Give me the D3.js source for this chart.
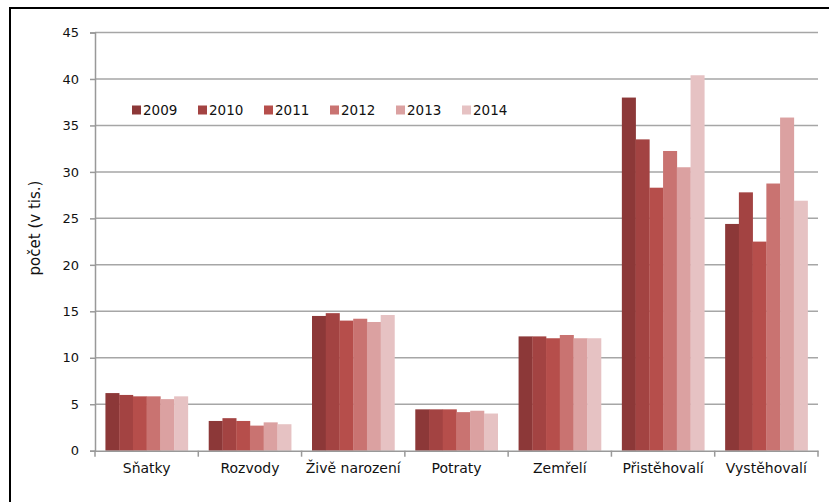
<!DOCTYPE html>
<html>
<head>
<meta charset="utf-8">
<script src="https://d3js.org/d3.v7.min.js"></script>
<style>
  body { margin: 0; background: #fff; }
  text { font-family: "DejaVu Sans", sans-serif; fill: #111; }
</style>
</head>
<body>
<svg id="chart" width="829" height="502"></svg>
<script>
// Data (thousands)
const categories = ["Sňatky", "Rozvody", "Živě narození", "Potraty", "Zemřelí", "Přistěhovalí", "Vystěhovalí"];
const years = ["2009", "2010", "2011", "2012", "2013", "2014"];
const v2009 = [6.2, 3.2, 14.5, 4.45, 12.3, 38.0, 24.4];
const v2010 = [6.0, 3.5, 14.8, 4.45, 12.3, 33.5, 27.8];
const v2011 = [5.85, 3.2, 14.0, 4.45, 12.1, 28.3, 22.5];
const v2012 = [5.85, 2.7, 14.2, 4.15, 12.45, 32.25, 28.75];
const v2013 = [5.55, 3.05, 13.85, 4.3, 12.1, 30.5, 35.85];
const v2014 = [5.85, 2.85, 14.6, 4.0, 12.1, 40.4, 26.9];
const yTicks = [0, 5, 10, 15, 20, 25, 30, 35, 40, 45];
const colors = ["#8c3838", "#a34342", "#b64e4b", "#c97371", "#dba1a1", "#e6c2c3"];

const series = [v2009, v2010, v2011, v2012, v2013, v2014];

const svg = d3.select("#chart");

// frame
svg.append("path")
    .attr("d", "M10,510 L10,8 L840,8")
    .attr("fill", "none")
    .attr("stroke", "#000")
    .attr("stroke-width", 2);

const plotL = 95, plotR = 818, plotT = 32.5, plotB = 450.7;

const x = d3.scaleBand().domain(categories).range([plotL, plotR]).padding(0);
const bw = x.bandwidth();
const xi = d3.scaleBand().domain(years).range([bw * 0.101, bw * 0.899]).padding(0);
const y = d3.scaleLinear().domain([0, 45]).range([plotB, plotT]);

// gridlines
svg.append("g")
    .selectAll("line")
    .data(yTicks.filter(d => d > 0))
    .join("line")
    .attr("x1", plotL).attr("x2", plotR)
    .attr("y1", d => y(d)).attr("y2", d => y(d))
    .attr("stroke", "#a6a6a6")
    .attr("stroke-width", 1.5);

// bars
const rows = [];
categories.forEach((c, i) => {
  years.forEach((yr, j) => rows.push({ cat: c, year: yr, value: series[j][i], k: j }));
});
svg.append("g")
    .selectAll("rect")
    .data(rows)
    .join("rect")
    .attr("x", d => x(d.cat) + xi(d.year))
    .attr("width", xi.bandwidth() + 0.3)
    .attr("y", d => y(d.value))
    .attr("height", d => y(0) - y(d.value))
    .attr("fill", d => colors[d.k]);

// y axis
const yAxis = svg.append("g")
    .attr("transform", `translate(${plotL},0)`)
    .call(d3.axisLeft(y).tickValues(yTicks).tickSize(5).tickPadding(11));
yAxis.select(".domain").attr("stroke", "#999").attr("stroke-width", 1.5);
yAxis.selectAll(".tick line").attr("stroke", "#999").attr("stroke-width", 1.5);
yAxis.selectAll(".tick text")
    .style("font-family", "DejaVu Sans")
    .style("font-size", "13px")
    .attr("fill", "#111");

// x axis
const xAxis = svg.append("g")
    .attr("transform", `translate(0,${plotB})`)
    .call(d3.axisBottom(x).tickSize(0).tickPadding(12));
xAxis.select(".domain").attr("stroke", "#999").attr("stroke-width", 1.5);
xAxis.selectAll(".tick text")
    .style("font-family", "DejaVu Sans")
    .style("font-size", "14px")
    .attr("fill", "#111");
// category separators
svg.append("g")
    .selectAll("line")
    .data(categories.map(c => x(c)).concat([plotR]))
    .join("line")
    .attr("x1", d => d).attr("x2", d => d)
    .attr("y1", plotB).attr("y2", plotB + 6)
    .attr("stroke", "#999")
    .attr("stroke-width", 1.5);

// y label
svg.append("text")
    .attr("transform", "translate(40,228) rotate(-90)")
    .attr("text-anchor", "middle")
    .style("font-size", "15px")
    .text("počet (v tis.)");

// legend
const legend = svg.append("g").attr("transform", "translate(132,110)");
const li = legend.selectAll("g")
    .data(years)
    .join("g")
    .attr("transform", (d, i) => `translate(${i * 66},0)`);
li.append("rect")
    .attr("x", 0).attr("y", -4.5)
    .attr("width", 9).attr("height", 9)
    .attr("fill", (d, i) => colors[i]);
li.append("text")
    .attr("x", 11).attr("y", 5)
    .style("font-size", "13.5px")
    .text(d => d);
</script>
</body>
</html>
